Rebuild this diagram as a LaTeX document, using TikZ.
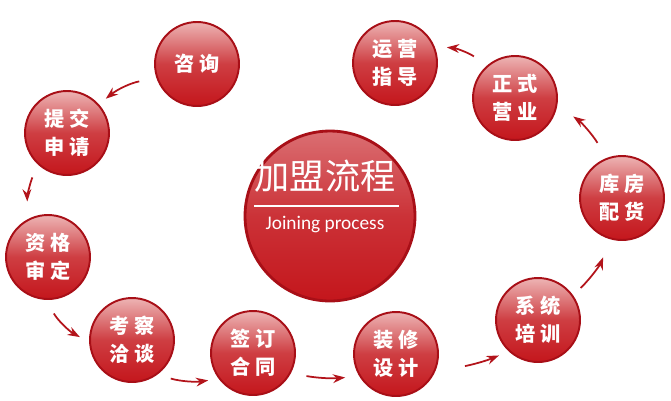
\documentclass[tikz,border=0pt]{standalone}
\usepackage{fontspec}
\setmainfont{Carlito}
\newfontfamily\cjk{Noto Sans CJK SC}
\usepackage{xcolor}
\usetikzlibrary{arrows.meta,shadows}
\definecolor{ringred}{HTML}{C4161C}
\definecolor{rimred}{HTML}{A80F17}
\definecolor{pinktop}{HTML}{EDB4B4}
\definecolor{arrowred}{HTML}{B3141B}

\tikzset{
  step circ/.style={circle, draw=rimred, line width=1.1pt, minimum size=1.68cm,
    top color=pinktop, bottom color=ringred, middle color=ringred!75!pinktop,
    text=white, align=center, font=\cjk\bfseries\fontsize{11.5}{16}\selectfont},
  main circ/.style={circle, draw=rimred, line width=1.6pt, minimum size=3.4cm,
    top color=ringred!62!white, bottom color=ringred, middle color=ringred!88!white},
  flow/.style={draw=arrowred, line width=1pt, -{Stealth[length=7pt,width=5pt]}}
}

\begin{document}
\begin{tikzpicture}[x=0.02cm, y=-0.02cm]
    \useasboundingbox (0,0) rectangle (671,400);

    % center
    \node[main circ] (hub) at (330,216) {};
    \node[text=white, font=\cjk\fontsize{20}{24}\selectfont] (title) at (325,176) {加盟流程};
    \draw[white, line width=0.8pt] (hub.center) ++(-76,-10) coordinate (rl) -- ++(145,0) coordinate (rr);
    \node[text=white, font=\fontsize{11}{13}\selectfont] (sub) at (325,225) {Joining process};

    % steps
    \node[step circ] (zx) at (197,64)  {咨\hspace{3pt}询};
    \node[step circ] (tj) at (67,133)  {提\hspace{3pt}交\\申\hspace{3pt}请};
    \node[step circ] (zg) at (48,257)  {资\hspace{3pt}格\\审\hspace{3pt}定};
    \node[step circ] (kc) at (132,340) {考\hspace{3pt}察\\洽\hspace{3pt}谈};
    \node[step circ] (qd) at (253,353) {签\hspace{3pt}订\\合\hspace{3pt}同};
    \node[step circ] (zxs) at (396,354) {装\hspace{3pt}修\\设\hspace{3pt}计};
    \node[step circ] (xt) at (538,320) {系\hspace{3pt}统\\培\hspace{3pt}训};
    \node[step circ] (kf) at (622,198) {库\hspace{3pt}房\\配\hspace{3pt}货};
    \node[step circ] (zs) at (515,98)  {正\hspace{3pt}式\\营\hspace{3pt}业};
    \node[step circ] (yy) at (395,63)  {运\hspace{3pt}营\\指\hspace{3pt}导};

    % arrows
    \draw[flow, shorten <=10pt, shorten >=5pt] (zx.200) to[bend right=15] (tj.42);
    \draw[flow, shorten <=8pt, shorten >=10pt] (tj.227) to[bend right=12] (zg.118);
    \draw[flow, shorten <=9pt, shorten >=6pt] (zg.267) to[bend right=15] (kc.183);
    \draw[flow, shorten <=8pt, shorten >=6pt] (kc.306) to[bend right=12] (qd.217);
    \draw[flow, shorten <=9pt, shorten >=8pt] (qd.332) to[bend right=8] (zxs.211);
    \draw[flow, shorten <=16pt, shorten >=6pt] (zxs.342) to[bend right=10] (xt.227);
    \draw[flow, shorten <=6pt, shorten >=11pt] (xt.35) to[bend right=12] (kf.254);
    \draw[flow, shorten <=10pt, shorten >=11pt] (kf.111) to[bend right=12] (zs.350);
    \draw[flow, shorten <=9pt, shorten >=7pt] (zs.131) to[bend right=15] (yy.23);
\end{tikzpicture}
\end{document}
